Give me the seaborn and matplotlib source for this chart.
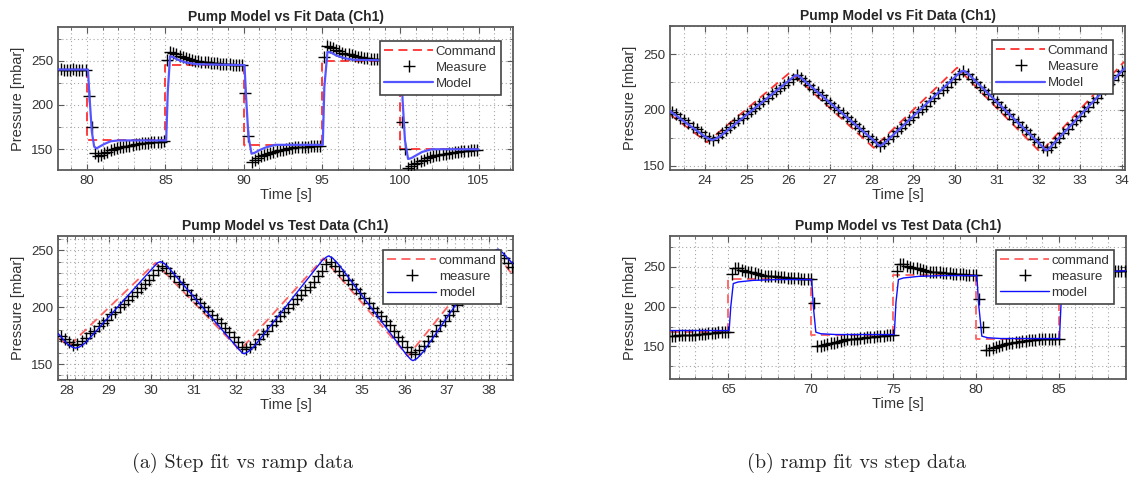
import numpy as np
import matplotlib
matplotlib.use("Agg")
import matplotlib.pyplot as plt
import seaborn as sns
from matplotlib.ticker import MultipleLocator
from matplotlib.lines import Line2D

# ---------------------------------------------------------------- data
# (a, top) step fit data
fit_step_cmd_t = [78.1, 80.0, 85.0, 90.0, 95.0, 100.0, 105.0]
fit_step_cmd_p = [240, 160, 245, 155, 250, 150]
fit_step_meas_t0, fit_step_meas_dt = 78.1, 0.2
fit_step_meas_p = [
    240, 241, 240, 239, 240, 241, 240, 240, 239, 240,
    210, 175, 146, 142, 144, 146, 147, 149, 150, 151, 152, 153, 154, 154, 155,
    156, 156, 157, 157, 157, 158, 158, 158, 158, 159,
    251, 260, 259, 257, 255, 254, 253, 252, 251, 250, 250, 249, 248, 248, 247,
    247, 247, 246, 246, 246, 246, 245, 245, 245, 245,
    213, 165, 136, 138, 140, 142, 143, 145, 146, 147, 148, 149, 149, 150, 151,
    151, 152, 152, 153, 153, 153, 154, 154, 154, 154,
    254, 267, 265, 264, 262, 261, 259, 258, 257, 256, 255, 254, 254, 253, 253,
    252, 252, 252, 251, 251, 251, 251, 250, 250, 250,
    181, 150, 129, 131, 133, 135, 137, 138, 140, 141, 142, 143, 144, 145, 145,
    146, 146, 147, 147, 148, 148, 148, 149, 149, 149,
]
fit_step_model_t = [78.1, 80.05, 80.15, 80.3, 80.45, 80.6, 80.8, 81.1, 81.5, 82.0,
                    85.05, 85.15, 85.3, 85.5, 85.8, 86.3, 87.0,
                    90.05, 90.15, 90.3, 90.5, 90.7, 91.0, 91.4, 92.0,
                    95.05, 95.15, 95.35, 95.6, 95.9, 96.4, 97.0,
                    100.05, 100.15, 100.3, 100.5, 100.7, 101.0, 101.4, 102.0, 105.0]
fit_step_model_p = [240, 240, 210, 170, 153, 151, 153, 156, 159, 160,
                    160, 215, 255, 254, 251, 248, 246,
                    245, 210, 165, 145, 146, 149, 152, 155,
                    155, 220, 260, 259, 256, 253, 251,
                    250, 205, 160, 139, 140, 143, 147, 150, 150]

# (a, bottom) ramp test data
test_ramp_cmd_t = [27.79, 28.05, 30.1, 32.1, 34.08, 36.08, 38.1, 38.57]
test_ramp_cmd_p = [173, 166, 239, 162, 243, 157, 250, 228]
test_ramp_meas_t0, test_ramp_meas_dt = 27.85, 0.1
test_ramp_meas_p = [
    175, 172, 169, 167, 168, 170, 173, 177, 179, 183, 186, 189, 194, 196, 200,
    203, 206, 210, 213, 217, 220, 224, 228, 233, 236, 234, 230, 227, 222, 220,
    215, 211, 207, 204, 200, 197, 193, 190, 186, 182, 178, 174, 169, 165, 163,
    165, 168, 172, 176, 179, 184, 188, 192, 196, 199, 203, 207, 211, 215, 218,
    222, 227, 232, 238, 240, 236, 232, 228, 224, 220, 216, 212, 208, 204, 199,
    196, 192, 188, 184, 179, 174, 170, 165, 161, 159, 162, 166, 170, 175, 179,
    184, 188, 193, 197, 202, 206, 210, 215, 219, 224, 228, 233, 238, 243, 246,
    243, 239, 235,
]
test_ramp_model_t = [27.79, 28.0, 28.12, 28.2, 28.3, 28.45, 30.05, 30.15, 30.22, 30.32,
                     30.45, 32.05, 32.15, 32.2, 32.3, 32.45, 34.05, 34.15, 34.2,
                     34.3, 34.45, 36.05, 36.15, 36.2, 36.3, 36.45, 38.05, 38.15,
                     38.22, 38.32, 38.57]
test_ramp_model_p = [177, 168, 165, 164, 165, 169, 235, 239, 240, 238,
                     233, 164, 160, 159, 161, 166, 241, 244, 245,
                     243, 237, 158, 154, 153, 155, 161, 247, 250,
                     251, 248, 238]

# (b, top) ramp fit data
fit_ramp_cmd_t = [23.16, 24.05, 26.05, 28.05, 30.05, 32.05, 34.05, 34.08]
fit_ramp_cmd_p = [196, 171, 234, 166, 238, 162, 243, 242]
fit_ramp_meas_t0, fit_ramp_meas_dt = 23.2, 0.1
fit_ramp_meas_p = [
    198, 196, 193, 191, 188, 185, 183, 180, 177, 175, 173, 176, 179, 182, 185,
    188, 191, 193, 196, 199, 202, 205, 208, 211, 214, 217, 220, 222, 225, 228,
    231, 229, 226, 222, 219, 216, 213, 209, 206, 203, 200, 197, 194, 190, 187,
    184, 181, 177, 174, 171, 168, 170, 174, 177, 181, 184, 187, 191, 194, 198,
    201, 204, 208, 211, 215, 218, 221, 225, 228, 232, 235, 232, 228, 225, 221,
    218, 214, 210, 207, 203, 200, 196, 192, 189, 185, 182, 178, 174, 171, 167,
    164, 167, 171, 175, 179, 183, 187, 191, 195, 199, 203, 207, 211, 215, 219,
    223, 227, 231, 235,
]
fit_ramp_model_t = [23.16, 24.0, 24.1, 24.17, 24.25, 24.35, 26.1, 26.17, 26.22, 26.3,
                    28.1, 28.17, 28.22, 28.3, 30.1, 30.17, 30.22, 30.3,
                    32.1, 32.17, 32.22, 32.3, 34.08]
fit_ramp_model_p = [199, 176, 174, 173, 174, 176, 229, 231, 231, 229,
                    171, 168, 168, 170, 233, 235, 235, 233,
                    167, 164, 164, 167, 238]

# (b, bottom) step test data
test_step_cmd_t = [61.47, 65.0, 70.0, 75.0, 80.0, 85.0, 89.08]
test_step_cmd_p = [168, 235, 165, 240, 160, 245]
test_step_meas_t0, test_step_meas_dt = 61.6, 0.2
test_step_meas_p = [
    163, 163, 164, 164, 164, 165, 165, 165, 166, 166, 166, 167, 167, 167, 168,
    168, 168,
    168, 241, 249, 248, 246, 245, 244, 243, 242, 241, 240, 239, 239, 238, 238,
    237, 237, 237, 236, 236, 236, 236, 235, 235, 235, 235,
    204, 150, 150, 152, 153, 154, 155, 156, 157, 158, 159, 159, 160, 160, 161,
    161, 162, 162, 162, 163, 163, 163, 164, 164, 164,
    245, 254, 253, 251, 250, 249, 248, 247, 246, 245, 244, 244, 243, 243, 242,
    242, 242, 241, 241, 241, 241, 240, 240, 240, 240,
    209, 174, 145, 146, 148, 149, 151, 152, 153, 154, 155, 156, 156, 157, 157,
    158, 158, 158, 159, 159, 159, 159, 159, 159, 159,
    230, 248, 247, 247, 246, 246, 246, 245, 245, 245, 245, 245, 245, 245, 245,
    245, 245, 245, 245, 245,
]
test_step_model_t = [61.47, 65.05, 65.15, 65.3, 65.6, 66.5, 68.0,
                     70.05, 70.15, 70.3, 70.6, 71.5,
                     75.05, 75.15, 75.3, 75.6, 76.5, 78.0,
                     80.05, 80.15, 80.35, 80.7, 81.5,
                     85.05, 85.15, 85.3, 85.6, 86.5, 89.08]
test_step_model_p = [170, 170, 200, 229, 231, 233, 234,
                     234, 200, 168, 166, 165,
                     165, 205, 234, 236, 238, 239,
                     239, 205, 163, 161, 160,
                     160, 205, 238, 241, 243, 245]

titles = ["Pump Model vs Fit Data (Ch1)", "Pump Model vs Test Data (Ch1)"]
legend_upper = ["Command", "Measure", "Model"]
legend_lower = ["command", "measure", "model"]
captions = ["(a) Step fit vs ramp data", "(b) ramp fit vs step data"]

# ---------------------------------------------------------------- style
sns.set_style("ticks")
plt.rcParams["font.family"] = ["Liberation Sans", "DejaVu Sans"]
plt.rcParams["axes.unicode_minus"] = False

W, H = 1132, 483
fig = plt.figure(figsize=(W / 100, H / 100), dpi=100)


def px_axes(x0, y0, x1, y1):
    return fig.add_axes([x0 / W, 1 - y1 / H, (x1 - x0) / W, (y1 - y0) / H])


def panel(ax, title, cmd_t, cmd_p, steps, m_t0, m_dt, m_p, mod_t, mod_p,
          xlim, ylim, xmaj, xmin, ymin, labels, bright):
    red = "#ff3030" if bright else "#ff6060"
    blue = "#5555ff" if bright else "#1010ff"
    mlw = 1.6 if bright else 1.0

    if steps:
        cx = list(cmd_t)
        cy = list(cmd_p) + [cmd_p[-1]]
        sns.lineplot(x=cx, y=cy, ax=ax, color=red, lw=1.3, linestyle=(0, (5, 3)),
                     drawstyle="steps-post", estimator=None, sort=False, zorder=2)
    else:
        sns.lineplot(x=cmd_t, y=cmd_p, ax=ax, color=red, lw=1.3, linestyle=(0, (5, 3)),
                     estimator=None, sort=False, zorder=2)

    m_t = m_t0 + m_dt * np.arange(len(m_p))
    sns.scatterplot(x=m_t, y=m_p, ax=ax, marker="+", s=64, color="k",
                    linewidth=1.0, zorder=3)
    sns.lineplot(x=mod_t, y=mod_p, ax=ax, color=blue, lw=mlw,
                 estimator=None, sort=False, zorder=4)

    ax.set_xlim(*xlim)
    ax.set_ylim(*ylim)
    ax.xaxis.set_major_locator(MultipleLocator(xmaj))
    ax.xaxis.set_minor_locator(MultipleLocator(xmin))
    ax.yaxis.set_major_locator(MultipleLocator(50))
    ax.yaxis.set_minor_locator(MultipleLocator(ymin))
    ax.grid(which="both", linestyle=(0, (1, 2.5)), color="#a8a8a8", lw=0.8)
    ax.set_axisbelow(True)
    for sp in ax.spines.values():
        sp.set_color("#5a5a5a")
        sp.set_linewidth(1.3)
    ax.tick_params(which="both", direction="in", top=True, right=True,
                   colors="#5a5a5a", labelcolor="#333333", labelsize=9.5)
    ax.tick_params(which="major", length=4)
    ax.tick_params(which="minor", length=2)
    ax.set_title(title, fontsize=10, fontweight="bold", pad=4)
    ax.set_xlabel("Time [s]", fontsize=10.5, color="#333333", labelpad=1)
    ax.set_ylabel("Pressure [mbar]", fontsize=10.5, color="#333333", labelpad=4)

    handles = [
        Line2D([], [], color=red, lw=1.3, linestyle=(0, (5, 3))),
        Line2D([], [], color="k", marker="+", ls="", ms=9, mew=1.0),
        Line2D([], [], color=blue, lw=mlw),
    ]
    leg = ax.legend(handles, labels, loc="upper right", bbox_to_anchor=(0.974, 0.903),
                    borderaxespad=0, frameon=True, fancybox=False, framealpha=1,
                    edgecolor="#444444", fontsize=9.5, handlelength=3.7,
                    handletextpad=0.2, labelspacing=0.3, borderpad=0.35)
    leg.get_frame().set_linewidth(1.2)
    for t in leg.get_texts():
        t.set_color("#333333")


ax1 = px_axes(58, 27, 513, 170)
panel(ax1, titles[0], fit_step_cmd_t, fit_step_cmd_p, True,
      fit_step_meas_t0, fit_step_meas_dt, fit_step_meas_p,
      fit_step_model_t, fit_step_model_p,
      (78.14, 107.2), (126.6, 288), 5, 1, 25, legend_upper, True)

ax2 = px_axes(58, 236, 513, 380)
panel(ax2, titles[1], test_ramp_cmd_t, test_ramp_cmd_p, False,
      test_ramp_meas_t0, test_ramp_meas_dt, test_ramp_meas_p,
      test_ramp_model_t, test_ramp_model_p,
      (27.79, 38.57), (136, 262.5), 1, 0.2, 10, legend_lower, False)

ax3 = px_axes(670, 26, 1125, 170)
panel(ax3, titles[0], fit_ramp_cmd_t, fit_ramp_cmd_p, False,
      fit_ramp_meas_t0, fit_ramp_meas_dt, fit_ramp_meas_p,
      fit_ramp_model_t, fit_ramp_model_p,
      (23.16, 34.08), (146.1, 275.4), 1, 0.5, 25, legend_upper, True)

ax4 = px_axes(670, 236, 1126, 379)
panel(ax4, titles[1], test_step_cmd_t, test_step_cmd_p, True,
      test_step_meas_t0, test_step_meas_dt, test_step_meas_p,
      test_step_model_t, test_step_model_p,
      (61.47, 89.08), (109.2, 288.7), 5, 1, 25, legend_lower, False)

fig.text(242 / W, 1 - 463 / H, captions[0], ha="center", va="center",
         fontsize=14.5, family="cmr10")
fig.text(856 / W, 1 - 463 / H, captions[1], ha="center", va="center",
         fontsize=14.5, family="cmr10")

fig.savefig("out.png", dpi=100, facecolor="white")
